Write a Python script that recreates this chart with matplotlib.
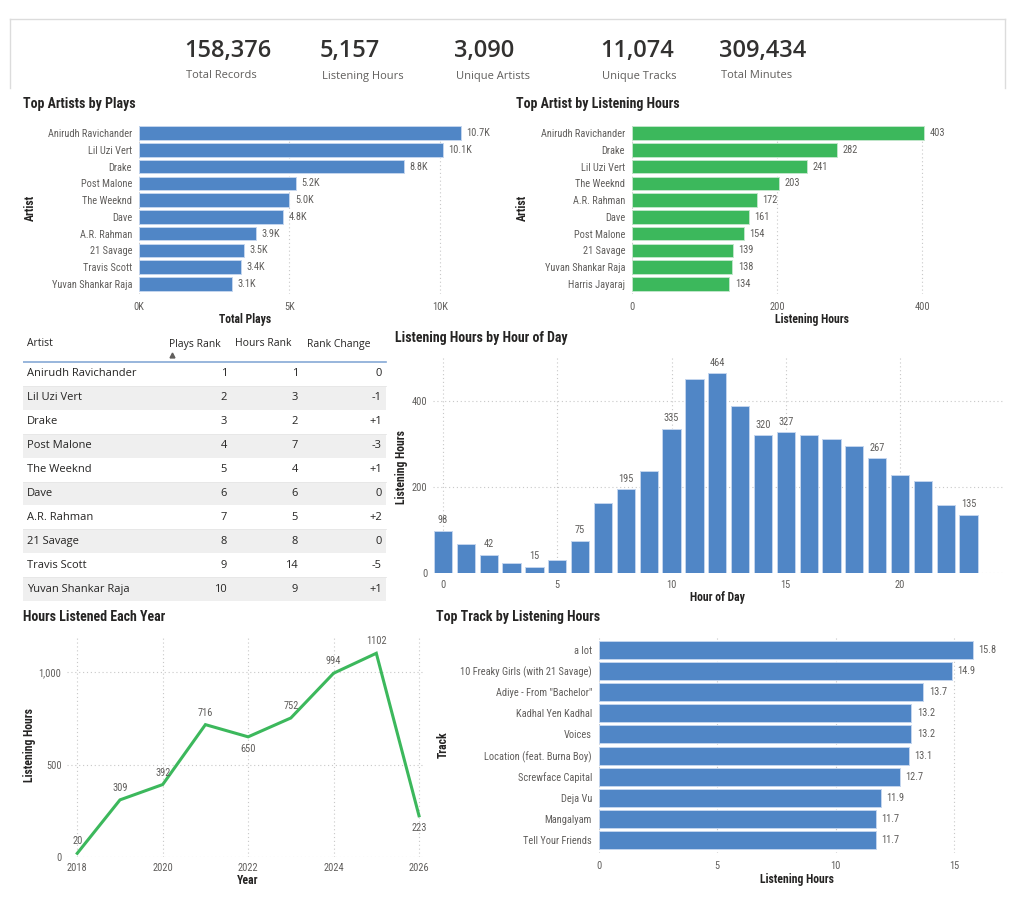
import numpy as np
import matplotlib
matplotlib.use("Agg")
import matplotlib.pyplot as plt
from matplotlib import font_manager as fm
from matplotlib.patches import Rectangle
from matplotlib.ticker import FuncFormatter

# ---------------- data ----------------
kpi_values = ["158,376", "5,157", "3,090", "11,074", "309,434"]
kpi_labels = ["Total Records", "Listening Hours", "Unique Artists", "Unique Tracks", "Total Minutes"]

plays_artists = ["Anirudh Ravichander", "Lil Uzi Vert", "Drake", "Post Malone", "The Weeknd",
                 "Dave", "A.R. Rahman", "21 Savage", "Travis Scott", "Yuvan Shankar Raja"]
plays_values = [10700, 10100, 8800, 5200, 5000, 4800, 3900, 3500, 3400, 3100]

hours_artists = ["Anirudh Ravichander", "Drake", "Lil Uzi Vert", "The Weeknd", "A.R. Rahman",
                 "Dave", "Post Malone", "21 Savage", "Yuvan Shankar Raja", "Harris Jayaraj"]
hours_values = [403, 282, 241, 203, 172, 161, 154, 139, 138, 134]

table_artists = plays_artists
table_plays_rank = [1, 2, 3, 4, 5, 6, 7, 8, 9, 10]
table_hours_rank = [1, 3, 2, 7, 4, 6, 5, 8, 14, 9]

hour_of_day = list(range(24))
hour_values = [98, 67, 42, 24, 15, 30, 75, 163, 195, 237, 335, 452, 464, 389,
               320, 327, 321, 312, 295, 267, 229, 213, 159, 135]
hour_labeled = [0, 2, 4, 6, 8, 10, 12, 14, 15, 19, 23]

years = [2018, 2019, 2020, 2021, 2022, 2023, 2024, 2025, 2026]
year_hours = [20, 309, 392, 716, 650, 752, 994, 1102, 223]
year_label_side = ["above", "above", "above", "above", "below", "above", "above", "above", "below"]

tracks = ["a lot", "10 Freaky Girls (with 21 Savage)", "Adiye - From \"Bachelor\"", "Kadhal Yen Kadhal",
          "Voices", "Location (feat. Burna Boy)", "Screwface Capital", "Deja Vu", "Mangalyam",
          "Tell Your Friends"]
track_hours = [15.8, 14.9, 13.7, 13.2, 13.2, 13.1, 12.7, 11.9, 11.7, 11.7]

# ---------------- style ----------------
names = {f.name for f in fm.fontManager.ttflist}
COND = next((n for n in ["Liberation Sans Narrow", "Roboto Condensed", "Roboto"] if n in names), "DejaVu Sans")
BODY = next((n for n in ["Open Sans", "Noto Sans", "Lato"] if n in names), "DejaVu Sans")

BLUE = "#5086C6"
BLUE_EDGE = "#c3d5ee"
GREEN = "#3CB85C"
GREEN_EDGE = "#c0e6c9"
DARK = "#252423"
GRAY = "#605E5C"
GRID = "#c8c8c8"

W, H = 1024, 924
fig = plt.figure(figsize=(W / 100, H / 100), dpi=100)
fig.patch.set_facecolor("white")


def rect(l, t, r, b):
    return [l / W, 1 - b / H, (r - l) / W, (b - t) / H]


def ftext(x, y, s, **kw):
    fig.text(x / W, 1 - y / H, s, **kw)


def style(ax, box, grid_axis, xlabel, xlpos, ylabel, ylpos):
    l, t, r, b = box
    for sp in ax.spines.values():
        sp.set_visible(False)
    ax.tick_params(length=0, colors=GRAY, labelsize=7.5)
    for lab in ax.get_xticklabels() + ax.get_yticklabels():
        lab.set_fontfamily(COND)
    if grid_axis in ("x", "both"):
        ax.xaxis.grid(True, linestyle=(0, (1, 2.5)), color=GRID, linewidth=0.8)
    if grid_axis in ("y", "both"):
        ax.yaxis.grid(True, linestyle=(0, (1, 2.5)), color=GRID, linewidth=0.8)
    ax.set_axisbelow(True)
    ax.set_xlabel(xlabel, fontsize=8.5, fontweight="bold", color=DARK, fontfamily=COND)
    ax.set_ylabel(ylabel, fontsize=8.5, fontweight="bold", color=DARK, fontfamily=COND)
    ax.xaxis.set_label_coords((xlpos[0] - l) / (r - l), (b - xlpos[1]) / (b - t))
    ax.yaxis.set_label_coords((ylpos[0] - l) / (r - l), (b - ylpos[1]) / (b - t))
    ax.xaxis.label.set_va("center")
    ax.yaxis.label.set_va("center")
    ax.yaxis.label.set_ha("center")


def title(x, y, s):
    ftext(x, y, s, fontsize=10, fontweight="bold", color=DARK, fontfamily=COND, va="center", ha="left")


# ---------------- KPI strip ----------------
frame_c = "#dcdcdc"
fig.add_artist(plt.Line2D([10 / W, 1005 / W], [1 - 19 / H, 1 - 19 / H], color=frame_c, lw=1))
fig.add_artist(plt.Line2D([10 / W, 10 / W], [1 - 19 / H, 1 - 88 / H], color=frame_c, lw=1))
fig.add_artist(plt.Line2D([1005 / W, 1005 / W], [1 - 19 / H, 1 - 88 / H], color=frame_c, lw=1))
kpi_x = [185, 321, 455, 601, 720]
for x, v, lab in zip(kpi_x, kpi_values, kpi_labels):
    ftext(x - 1, 51, v, fontsize=17, fontweight="semibold", color="#323130", fontfamily=BODY,
          va="center", ha="left")
    ftext(x + 1, 76, lab, fontsize=8, color=GRAY, fontfamily=BODY, va="center", ha="left")

# ---------------- Top Artists by Plays ----------------
title(23, 104, "Top Artists by Plays")
box1 = (139, 123, 480, 294)
ax1 = fig.add_axes(rect(*box1))
y = np.arange(len(plays_artists))
ax1.barh(y, plays_values, height=0.8, color=BLUE, edgecolor=BLUE_EDGE, linewidth=0.7)
ax1.set_ylim(len(y) - 0.4, -0.6)
ax1.set_xlim(0, 11330)
ax1.set_xticks([0, 5000, 10000])
ax1.xaxis.set_major_formatter(FuncFormatter(lambda v, p: f"{v/1000:.0f}K"))
ax1.set_yticks(y, plays_artists)
for yi, v in zip(y, plays_values):
    ax1.annotate(f"{v/1000:.1f}K", (v, yi), xytext=(4, 0), textcoords="offset points",
                 va="center", ha="left", fontsize=7.5, color=GRAY, fontfamily=COND)
style(ax1, box1, "x", "Total Plays", (245, 320), "Artist", (30, 208))
ax1.tick_params(axis="y", pad=5)
ax1.tick_params(axis="x", pad=6)

# ---------------- Top Artist by Listening Hours ----------------
title(516, 104, "Top Artist by Listening Hours")
box2 = (632, 123, 960, 294)
ax2 = fig.add_axes(rect(*box2))
y = np.arange(len(hours_artists))
ax2.barh(y, hours_values, height=0.8, color=GREEN, edgecolor=GREEN_EDGE, linewidth=0.7)
ax2.set_ylim(len(y) - 0.4, -0.6)
ax2.set_xlim(0, 452)
ax2.set_xticks([0, 200, 400])
ax2.set_yticks(y, hours_artists)
for yi, v in zip(y, hours_values):
    ax2.annotate(f"{v}", (v, yi), xytext=(4, 0), textcoords="offset points",
                 va="center", ha="left", fontsize=7.5, color=GRAY, fontfamily=COND)
style(ax2, box2, "x", "Listening Hours", (812, 320), "Artist", (522, 208))
ax2.tick_params(axis="y", pad=5)
ax2.tick_params(axis="x", pad=6)

# ---------------- Table ----------------
axt = fig.add_axes(rect(23, 330, 388, 602))
axt.set_xlim(23, 388)
axt.set_ylim(602, 330)
axt.axis("off")
hdr_y = 344
axt.text(27, hdr_y, "Artist", fontsize=7.5, color=DARK, fontfamily=BODY, va="center", ha="left")
axt.text(169, hdr_y, "Plays Rank", fontsize=7.5, color=DARK, fontfamily=BODY, va="center", ha="left")
axt.text(235, hdr_y, "Hours Rank", fontsize=7.5, color=DARK, fontfamily=BODY, va="center", ha="left")
axt.text(307, hdr_y, "Rank Change", fontsize=7.5, color=DARK, fontfamily=BODY, va="center", ha="left")
axt.plot([172], [354.5], marker="^", markersize=3.5, color=GRAY)
axt.plot([23, 386], [361.5, 361.5], color="#86a9d6", lw=1.2)
row_h = 23.9
top0 = 362
for i, (a, pr, hr) in enumerate(zip(table_artists, table_plays_rank, table_hours_rank)):
    t0 = top0 + i * row_h
    if i % 2 == 1:
        axt.add_patch(Rectangle((23, t0), 363, row_h, facecolor="#efefef", edgecolor="none"))
    else:
        axt.plot([23, 386], [t0 + row_h, t0 + row_h], color="#e6e6e6", lw=0.6)
    cy = t0 + row_h / 2
    ch = pr - hr
    ch_s = f"+{ch}" if ch > 0 else f"{ch}"
    axt.text(27, cy, a, fontsize=8, color=DARK, fontfamily=BODY, va="center", ha="left")
    axt.text(227, cy, str(pr), fontsize=8, color=DARK, fontfamily=BODY, va="center", ha="right")
    axt.text(298, cy, str(hr), fontsize=8, color=DARK, fontfamily=BODY, va="center", ha="right")
    axt.text(382, cy, ch_s, fontsize=8, color=DARK, fontfamily=BODY, va="center", ha="right")

# ---------------- Listening Hours by Hour of Day ----------------
title(395, 338, "Listening Hours by Hour of Day")
box3 = (433, 358, 1004, 573)
ax3 = fig.add_axes(rect(*box3))
ax3.bar(hour_of_day, hour_values, width=0.8, color=BLUE, edgecolor=BLUE_EDGE, linewidth=0.7)
ax3.set_xlim(-0.44, 24.55)
ax3.set_ylim(0, 500)
ax3.set_xticks([0, 5, 10, 15, 20])
ax3.set_yticks([0, 200, 400])
for h in hour_labeled:
    ax3.annotate(f"{hour_values[h]}", (h, hour_values[h]), xytext=(0, 4), textcoords="offset points",
                 va="bottom", ha="center", fontsize=7.5, color=GRAY, fontfamily=COND)
style(ax3, box3, "both", "Hour of Day", (717, 597), "Listening Hours", (402, 467))
ax3.tick_params(axis="y", pad=4)
ax3.tick_params(axis="x", pad=5)

# ---------------- Hours Listened Each Year ----------------
title(23, 617, "Hours Listened Each Year")
box4 = (67, 637, 425, 857)
ax4 = fig.add_axes(rect(*box4))
ax4.plot(years, year_hours, color=GREEN, lw=2.2, solid_joinstyle="miter", clip_on=False)
ax4.set_xlim(2017.76, 2026.14)
ax4.set_ylim(0, 1190)
ax4.set_xticks([2018, 2020, 2022, 2024, 2026])
ax4.set_yticks([0, 500, 1000])
ax4.yaxis.set_major_formatter(FuncFormatter(lambda v, p: f"{v:,.0f}"))
for yr, v, side in zip(years, year_hours, year_label_side):
    off = (0, 5) if side == "above" else (0, -5)
    ax4.annotate(f"{v}", (yr, v), xytext=off, textcoords="offset points",
                 va="bottom" if side == "above" else "top", ha="center",
                 fontsize=7.5, color=GRAY, fontfamily=COND)
style(ax4, box4, "both", "Year", (248, 880), "Listening Hours", (30, 745))
ax4.tick_params(axis="y", pad=4)
ax4.tick_params(axis="x", pad=4)

# ---------------- Top Track by Listening Hours ----------------
title(436, 617, "Top Track by Listening Hours")
box5 = (599, 637, 1000, 853)
ax5 = fig.add_axes(rect(*box5))
y = np.arange(len(tracks))
ax5.barh(y, track_hours, height=0.85, color=BLUE, edgecolor=BLUE_EDGE, linewidth=0.7)
ax5.set_ylim(len(y) - 0.4, -0.6)
ax5.set_xlim(0, 16.94)
ax5.set_xticks([0, 5, 10, 15])
ax5.set_yticks(y, tracks)
for yi, v in zip(y, track_hours):
    ax5.annotate(f"{v:.1f}", (v, yi), xytext=(4, 0), textcoords="offset points",
                 va="center", ha="left", fontsize=7.5, color=GRAY, fontfamily=COND)
style(ax5, box5, "x", "Listening Hours", (797, 880), "Track", (443, 745))
ax5.tick_params(axis="y", pad=5)
ax5.tick_params(axis="x", pad=6)

fig.savefig("out.png", dpi=100, facecolor="white")
